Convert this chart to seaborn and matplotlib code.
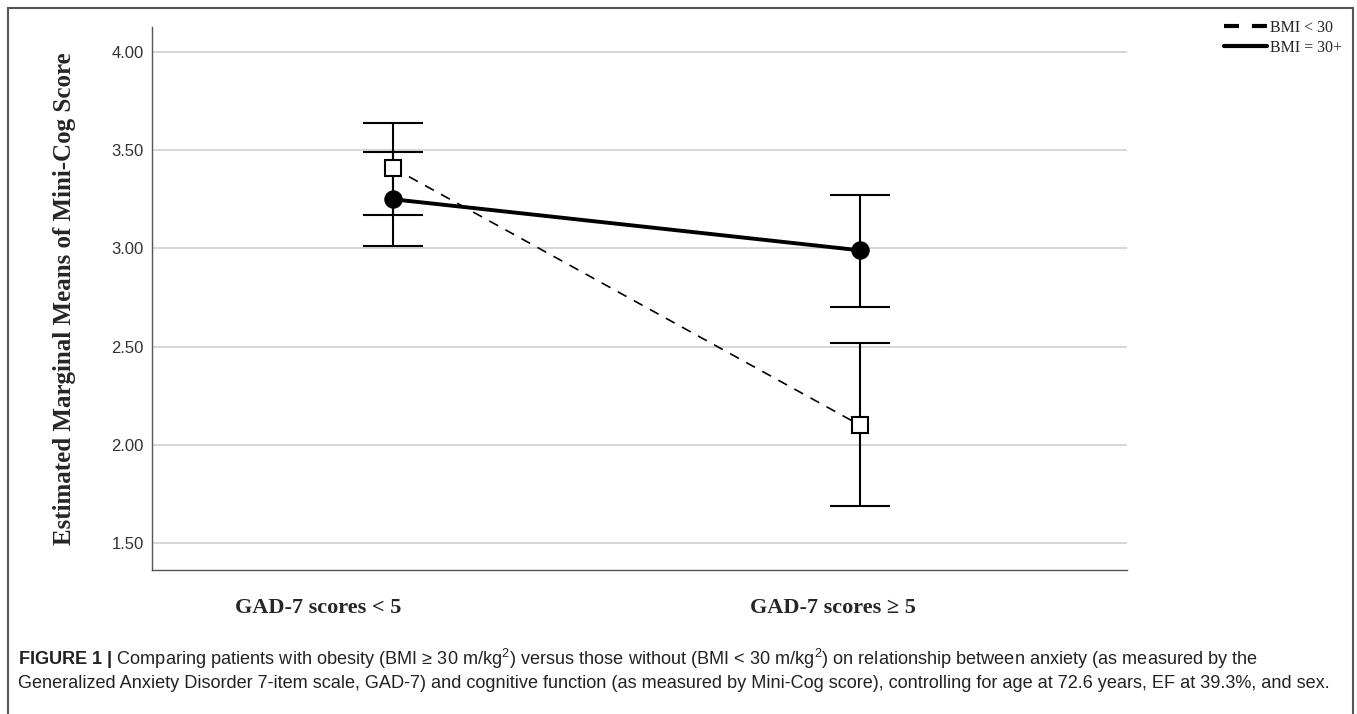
import numpy as np
import pandas as pd
import matplotlib
matplotlib.use("Agg")
import matplotlib.pyplot as plt
import seaborn as sns
from matplotlib.lines import Line2D
from matplotlib.patches import Rectangle

# donnees
categories = ["GAD-7 scores < 5", "GAD-7 scores \u2265 5"]
groups = ["BMI < 30", "BMI = 30+"]
mean_low = [3.41, 2.10]      # BMI < 30
upper_low = [3.64, 2.52]
lower_low = [3.17, 1.69]
mean_high = [3.25, 2.99]     # BMI = 30+
upper_high = [3.49, 3.27]
lower_high = [3.01, 2.70]
yticks = [1.50, 2.00, 2.50, 3.00, 3.50, 4.00]

df = pd.DataFrame({
    "pos": list(range(len(categories))) * 2,
    "gad": categories * 2,
    "group": [groups[0]] * 2 + [groups[1]] * 2,
    "mean": mean_low + mean_high,
    "upper": upper_low + upper_high,
    "lower": lower_low + lower_high,
})

sns.set_style("white")
plt.rcParams["font.family"] = ["Liberation Sans", "DejaVu Sans"]
plt.rcParams["mathtext.fontset"] = "custom"
plt.rcParams["mathtext.rm"] = "Liberation Sans"
plt.rcParams["mathtext.bf"] = "Liberation Sans:bold"
plt.rcParams["mathtext.it"] = "Liberation Sans:italic"

fig = plt.figure(figsize=(13.57, 7.14), dpi=100)
ax = fig.add_axes([0.112, 0.2017, 0.7185, 0.7605])

# barres d'erreur (IC 95%)
for g in groups:
    sub = df[df["group"] == g]
    ax.errorbar(sub["pos"], sub["mean"],
                yerr=[sub["mean"] - sub["lower"], sub["upper"] - sub["mean"]],
                fmt="none", ecolor="black", elinewidth=1.5, capsize=21.5,
                capthick=1.5, zorder=3)

low = df[df["group"] == groups[0]]
high = df[df["group"] == groups[1]]
sns.lineplot(data=low, x="pos", y="mean", ax=ax, color="black", lw=1.2,
             linestyle=(0, (6, 5)), marker="s", markersize=11,
             markerfacecolor="white", markeredgecolor="black",
             markeredgewidth=1.5, zorder=4, legend=False)
sns.lineplot(data=high, x="pos", y="mean", ax=ax, color="black", lw=2.8,
             marker="o", markersize=12.5, markerfacecolor="black",
             markeredgecolor="black", zorder=5, legend=False)

ax.set_xlim(-0.516, 1.572)
ax.set_ylim(1.3625, 4.127)
ax.set_yticks(yticks)
ax.set_yticklabels([f"{v:.2f}" for v in yticks], fontsize=12, color="#333333")
ax.tick_params(axis="y", length=0, pad=6)
ax.set_xticks([])
ax.yaxis.grid(True, color="#d3d3d3", lw=1.3)
ax.set_axisbelow(True)
for s in ["top", "right"]:
    ax.spines[s].set_visible(False)
for s in ["left", "bottom"]:
    ax.spines[s].set_color("#555555")
    ax.spines[s].set_linewidth(1.0)

ax.set_xlabel("")
ax.set_ylabel("Estimated Marginal Means of Mini-Cog Score",
              family="Liberation Serif", fontweight="bold", fontsize=18)
ax.yaxis.set_label_coords(-0.078, 0.5)

# etiquettes des categories (decalees comme dans SPSS)
for xf, lab in zip([0.170, 0.698], categories):
    ax.text(xf, -0.07, lab, transform=ax.transAxes, ha="center", va="center",
            family="Liberation Serif", fontweight="bold", fontsize=16)

handles = [Line2D([0], [0], color="black", lw=3, linestyle=(0, (3.6, 3.1))),
           Line2D([0], [0], color="black", lw=3)]
fig.legend(handles, groups, loc="upper left",
           bbox_to_anchor=(1224 / 1357, 1 - 20 / 714), frameon=False,
           prop={"family": "Liberation Serif", "size": 11.5},
           handlelength=2.7, handletextpad=0.15, labelspacing=0.25,
           borderaxespad=0, borderpad=0)

# cadre exterieur
fig.patches.append(Rectangle((8 / 1357, -0.01), (1353 - 8) / 1357, 1 - 8 / 714 + 0.01,
                             transform=fig.transFigure, fill=False,
                             edgecolor="#555555", lw=1.5))

line1 = (r"$\mathbf{FIGURE\ 1\ |}$ Comparing patients with obesity (BMI GEQ 30 m/kg$^{2}$) "
         r"versus those without (BMI < 30 m/kg$^{2}$) on relationship between anxiety (as measured by the")
line1 = line1.replace("GEQ", "\u2265")
line2 = ("Generalized Anxiety Disorder 7-item scale, GAD-7) and cognitive function "
         "(as measured by Mini-Cog score), controlling for age at 72.6 years, EF at 39.3%, and sex.")
fig.text(18 / 1357, 1 - 659 / 714, line1, ha="left", va="center", fontsize=13.05, color="#222222")
fig.text(18 / 1357, 1 - 683 / 714, line2, ha="left", va="center", fontsize=13.05, color="#222222")

fig.savefig("out.png", dpi=100)
